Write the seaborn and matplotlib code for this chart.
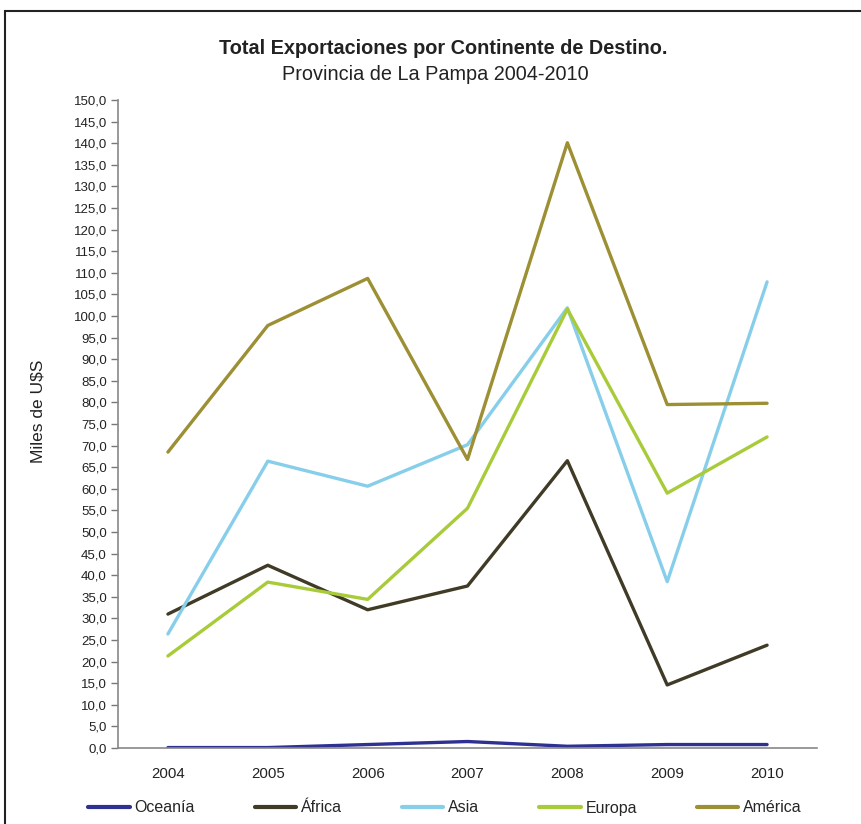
import matplotlib
matplotlib.use("Agg")
import matplotlib.pyplot as plt
from matplotlib.patches import Rectangle
from matplotlib.lines import Line2D
import seaborn as sns
import pandas as pd
import numpy as np

years = ["2004", "2005", "2006", "2007", "2008", "2009", "2010"]
oceania = [0.1, 0.1, 0.8, 1.5, 0.4, 0.8, 0.8]
africa = [31.0, 42.3, 32.0, 37.5, 66.5, 14.6, 23.8]
asia = [26.4, 66.4, 60.6, 70.2, 101.9, 38.5, 107.9]
europa = [21.3, 38.4, 34.4, 55.5, 101.6, 59.0, 72.0]
america = [68.5, 97.8, 108.7, 66.8, 140.1, 79.5, 79.8]

series_names = ["Oceanía", "África", "Asia", "Europa", "América"]
series_values = [oceania, africa, asia, europa, america]
colors = ["#2E3192", "#403B27", "#87CEEB", "#A8CB3A", "#9C8F34"]

rows = []
for name, vals in zip(series_names, series_values):
    for i, v in enumerate(vals):
        rows.append({"idx": i, "year": years[i], "serie": name, "valor": v})
df = pd.DataFrame(rows)

sns.set_style("white")
plt.rcParams["font.family"] = ["Liberation Sans", "DejaVu Sans"]

fig = plt.figure(figsize=(8.62, 8.24), dpi=100)
ax = fig.add_axes([118/862, 1-748/824, (817-118)/862, (748-100)/824])

sns.lineplot(data=df, x="idx", y="valor", hue="serie", hue_order=series_names,
             palette=colors, linewidth=2.4, ax=ax, legend=False, sort=False)

ax.set_xlim(-0.5, 6.5)
ax.set_ylim(0, 150)
ax.set_yticks(np.arange(0, 150.1, 5))
ax.set_yticklabels([f"{v:.1f}".replace(".", ",") for v in np.arange(0, 150.1, 5)],
                   fontsize=9.5, color="#222222")
ax.set_xticks(np.arange(7))
ax.set_xticklabels(years, fontsize=10.8, color="#222222")
ax.set_xticks(np.arange(-0.5, 7, 1), minor=True)
ax.tick_params(axis="x", which="major", length=0, pad=14)
ax.tick_params(axis="x", which="minor", length=5, width=1, color="#777777", direction="out")
ax.tick_params(axis="y", length=5, width=1, color="#777777", direction="out", pad=3, left=True)
for s in ["top", "right"]:
    ax.spines[s].set_visible(False)
for s in ["left", "bottom"]:
    ax.spines[s].set_color("#888888")
    ax.spines[s].set_linewidth(1.2)
ax.set_xlabel("")
ax.set_ylabel("Miles de U$S", fontsize=12.5, color="#222222")
ax.yaxis.set_label_coords(-72/699, 0.52)

fig.text(443/862, 1-48/824, "Total Exportaciones por Continente de Destino.",
         ha="center", va="center", fontsize=14.3, fontweight="bold", color="#222222")
fig.text(435/862, 1-74/824, "Provincia de La Pampa 2004-2010",
         ha="center", va="center", fontsize=14.3, color="#222222")

handles = [Line2D([0], [0], color=c, lw=3) for c in colors]
leg = fig.legend(handles, series_names, loc="center left", bbox_to_anchor=(80/862, 1-808/824),
                 ncol=5, frameon=False, fontsize=11.5, handlelength=2.6, handletextpad=0.3,
                 columnspacing=3.75, borderpad=0.0)

fig.patches.append(Rectangle((5/862, -0.05), 1.0, 1.05 - 11/824, transform=fig.transFigure,
                             fill=False, edgecolor="#222222", linewidth=1.5))

fig.savefig("out.png", dpi=100)
